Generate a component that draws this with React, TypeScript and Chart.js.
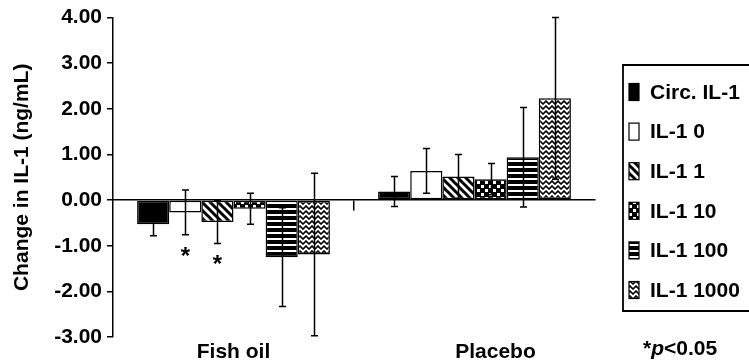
import { useEffect, useRef } from "react";
import { Chart, registerables } from "chart.js";

Chart.register(...registerables);

// ---------- data ----------
const categories = ["Fish oil", "Placebo"];
const seriesNames = ["Circ. IL-1", "IL-1 0", "IL-1 1", "IL-1 10", "IL-1 100", "IL-1 1000"];

const circValues = [-0.53, 0.19];
const il0Values = [-0.27, 0.64];
const il1Values = [-0.48, 0.52];
const il10Values = [-0.19, 0.46];
const il100Values = [-1.25, 0.94];
const il1000Values = [-1.19, 2.23];

const circErr = [0.25, 0.33];
const il0Err = [0.49, 0.49];
const il1Err = [0.47, 0.48];
const il10Err = [0.34, 0.34];
const il100Err = [1.08, 1.09];
const il1000Err = [1.78, 1.77];

// significance flags (per series, per category)
const circSig = [false, false];
const il0Sig = [true, false];
const il1Sig = [true, false];
const il10Sig = [false, false];
const il100Sig = [false, false];
const il1000Sig = [false, false];

const yTicks = [-3, -2, -1, 0, 1, 2, 3, 4];
const yTitle = "Change in IL-1 (ng/mL)";
const footnoteStar = "*";
const footnoteP = "p";
const footnoteRest = "<0.05";

const seriesValues = [circValues, il0Values, il1Values, il10Values, il100Values, il1000Values];
const seriesErr = [circErr, il0Err, il1Err, il10Err, il100Err, il1000Err];
const seriesSig = [circSig, il0Sig, il1Sig, il10Sig, il100Sig, il1000Sig];

const FONT = "'Liberation Sans', Arial, Helvetica, sans-serif";

// ---------- patterns ----------
function makePattern(kind: string): CanvasPattern | string {
  if (kind === "solid") return "#000000";
  if (kind === "white") return "#ffffff";
  const c = document.createElement("canvas");
  const g = c.getContext("2d")!;
  if (kind === "diag") {
    c.width = 8;
    c.height = 8;
    g.fillStyle = "#fff";
    g.fillRect(0, 0, 8, 8);
    g.strokeStyle = "#000";
    g.lineWidth = 3;
    g.beginPath();
    g.moveTo(-4, -4);
    g.lineTo(12, 12);
    g.moveTo(-4, 4);
    g.lineTo(4, 12);
    g.moveTo(4, -4);
    g.lineTo(12, 4);
    g.stroke();
  } else if (kind === "dots") {
    c.width = 8;
    c.height = 8;
    g.fillStyle = "#000";
    g.fillRect(0, 0, 8, 8);
    g.fillStyle = "#fff";
    g.fillRect(1, 1, 3, 3);
    g.fillRect(5, 5, 3, 3);
  } else if (kind === "hstripe") {
    c.width = 4;
    c.height = 6;
    g.fillStyle = "#000";
    g.fillRect(0, 0, 4, 6);
    g.fillStyle = "#fff";
    g.fillRect(0, 4, 4, 2);
  } else if (kind === "zigzag") {
    c.width = 6;
    c.height = 5;
    g.fillStyle = "#fff";
    g.fillRect(0, 0, 6, 5);
    g.strokeStyle = "#000";
    g.lineWidth = 1.6;
    g.beginPath();
    g.moveTo(-3, 4);
    g.lineTo(0, 1);
    g.lineTo(3, 4);
    g.lineTo(6, 1);
    g.lineTo(9, 4);
    g.stroke();
  }
  return g.createPattern(c, "repeat")!;
}

const patternKinds = ["solid", "white", "diag", "dots", "hstripe", "zigzag"];

// ---------- plugins ----------
const errorBarPlugin = {
  id: "errorBars",
  afterDatasetsDraw(chart: any) {
    const { ctx } = chart;
    const y = chart.scales.y;
    ctx.save();
    ctx.strokeStyle = "#000";
    ctx.lineWidth = 1.5;
    chart.data.datasets.forEach((ds: any, di: number) => {
      const meta = chart.getDatasetMeta(di);
      meta.data.forEach((bar: any, i: number) => {
        const v = ds.data[i];
        const e = seriesErr[di][i];
        const yTop = y.getPixelForValue(v + e);
        const yBot = y.getPixelForValue(v - e);
        const x = Math.round(bar.x) + 0.5;
        const cap = 3.5;
        ctx.beginPath();
        ctx.moveTo(x, yTop);
        ctx.lineTo(x, yBot);
        ctx.moveTo(x - cap, yTop);
        ctx.lineTo(x + cap, yTop);
        ctx.moveTo(x - cap, yBot);
        ctx.lineTo(x + cap, yBot);
        ctx.stroke();
        if (seriesSig[di][i]) {
          ctx.fillStyle = "#000";
          ctx.font = `bold 24px ${FONT}`;
          ctx.textAlign = "center";
          ctx.textBaseline = "alphabetic";
          ctx.fillText("*", x, yBot + 29);
        }
      });
    });
    ctx.restore();
  },
};

const labelsPlugin = {
  id: "extraLabels",
  afterDraw(chart: any) {
    const { ctx, chartArea } = chart;
    const xs = chart.scales.x;
    ctx.save();
    ctx.fillStyle = "#000";
    ctx.strokeStyle = "#000";
    // category labels
    ctx.font = `bold 21px ${FONT}`;
    ctx.textAlign = "center";
    ctx.textBaseline = "alphabetic";
    const labelShift = [0, 21];
    categories.forEach((c, i) => {
      ctx.fillText(c, xs.getPixelForValue(i) + labelShift[i], chartArea.bottom + 21);
    });

    // legend
    const lx = chartArea.right + 28;
    const top = 65;
    const bottom = 311;
    ctx.lineWidth = 1.8;
    ctx.beginPath();
    ctx.moveTo(chart.width + 5, top);
    ctx.lineTo(lx, top);
    ctx.lineTo(lx, bottom);
    ctx.lineTo(chart.width + 5, bottom);
    ctx.stroke();
    const step = 39.6;
    seriesNames.forEach((name, i) => {
      const cy = 92 + i * step;
      const ds = chart.data.datasets[i];
      ctx.fillStyle = ds.backgroundColor;
      ctx.fillRect(lx + 6, cy - 8.5, 10, 17);
      ctx.lineWidth = 1.2;
      ctx.strokeRect(lx + 6, cy - 8.5, 10, 17);
      ctx.fillStyle = "#000";
      ctx.font = `bold 21px ${FONT}`;
      ctx.textAlign = "left";
      ctx.textBaseline = "middle";
      ctx.fillText(name, lx + 27, cy + 1);
    });

    // footnote
    ctx.textAlign = "left";
    ctx.textBaseline = "alphabetic";
    let fx = lx + 20;
    const fy = chartArea.bottom + 18;
    ctx.font = `bold 21px ${FONT}`;
    ctx.fillText(footnoteStar, fx, fy);
    fx += ctx.measureText(footnoteStar).width;
    ctx.font = `italic bold 21px ${FONT}`;
    ctx.fillText(footnoteP, fx, fy);
    fx += ctx.measureText(footnoteP).width;
    ctx.font = `bold 21px ${FONT}`;
    ctx.fillText(footnoteRest, fx, fy);
    ctx.restore();
  },
};

export default function App() {
  const ref = useRef<HTMLCanvasElement | null>(null);

  useEffect(() => {
    document.body.style.margin = "0";
    const canvas = ref.current!;
    const datasets = seriesNames.map((name, i) => ({
      label: name,
      data: seriesValues[i],
      backgroundColor: makePattern(patternKinds[i]) as any,
      borderColor: "#000",
      borderWidth: 1.5,
      borderSkipped: false,
      barPercentage: 1,
      categoryPercentage: 0.8,
    }));

    const chart = new Chart(canvas, {
      type: "bar",
      data: { labels: categories, datasets },
      plugins: [errorBarPlugin, labelsPlugin],
      options: {
        responsive: false,
        animation: false,
        layout: { padding: { left: 0, right: 154, top: 14, bottom: 27 } },
        plugins: {
          legend: { display: false },
          tooltip: { enabled: false },
          title: { display: false },
        },
        scales: {
          x: {
            position: { y: 0 } as any,
            ticks: { display: false },
            grid: {
              drawOnChartArea: false,
              offset: true,
              tickLength: 10,
              lineWidth: 1.5,
              color: (ctx: any) => (ctx.index === 1 ? "#000" : "rgba(0,0,0,0)"),
            },
            border: { display: true, color: "#000", width: 1.5 },
          },
          y: {
            min: -3,
            max: 4,
            afterBuildTicks: (scale: any) => {
              scale.ticks = yTicks.map((v) => ({ value: v }));
            },
            afterFit: (scale: any) => {
              scale.width = 113;
            },
            ticks: {
              color: "#000",
              font: { family: FONT, size: 21, weight: "bold" },
              padding: 5,
              callback: (v: any) => Number(v).toFixed(2),
            },
            grid: {
              drawOnChartArea: false,
              tickLength: 6,
              lineWidth: 1.5,
              color: "#000",
            },
            border: { display: true, color: "#000", width: 1.5 },
            title: {
              display: true,
              text: yTitle,
              color: "#000",
              font: { family: FONT, size: 21, weight: "bold" },
              padding: { top: 10, bottom: 0 },
            },
          },
        },
      },
    });
    return () => chart.destroy();
  }, []);

  return (
    <div style={{ width: 749, height: 364 }}>
      <canvas ref={ref} width={749} height={364} />
    </div>
  );
}
